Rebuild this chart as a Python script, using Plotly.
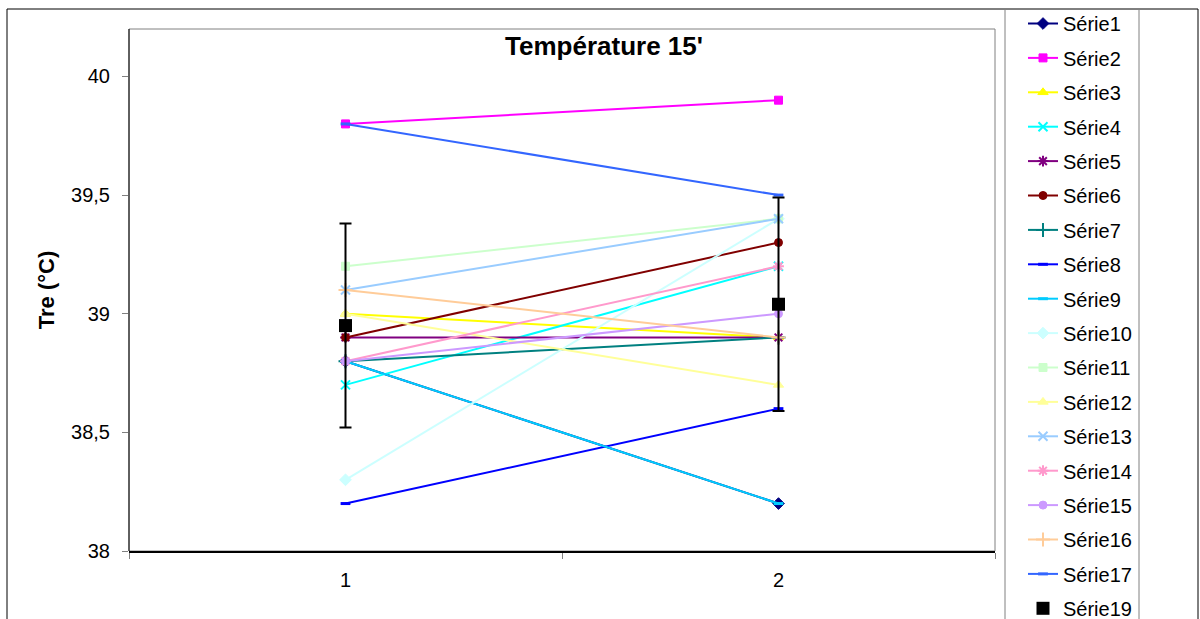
import plotly.graph_objects as go

categories = ["1", "2"]

series_names = ["Série1", "Série2", "Série3", "Série4", "Série5", "Série6", "Série7",
                "Série8", "Série9", "Série10", "Série11", "Série12", "Série13",
                "Série14", "Série15", "Série16", "Série17"]

s1 = [38.8, 38.2]
s2 = [39.8, 39.9]
s3 = [39.0, 38.9]
s4 = [38.7, 39.2]
s5 = [38.9, 38.9]
s6 = [38.9, 39.3]
s7 = [38.8, 38.9]
s8 = [38.2, 38.6]
s9 = [38.8, 38.2]
s10 = [38.3, 39.4]
s11 = [39.2, 39.4]
s12 = [39.0, 38.7]
s13 = [39.1, 39.4]
s14 = [38.8, 39.2]
s15 = [38.8, 39.0]
s16 = [39.1, 38.9]
s17 = [39.8, 39.5]

mean_name = "Série19"
mean_values = [38.95, 39.04]
mean_errors = [0.43, 0.45]

series_values = [s1, s2, s3, s4, s5, s6, s7, s8, s9, s10, s11, s12, s13, s14, s15, s16, s17]

colors = ["#000080", "#FF00FF", "#FFFF00", "#00FFFF", "#800080", "#800000", "#008080",
          "#0000FF", "#00CCFF", "#CCFFFF", "#CCFFCC", "#FFFF99", "#99CCFF",
          "#FF99CC", "#CC99FF", "#FFCC99", "#3366FF"]
symbols = ["diamond", "square", "triangle-up", "x-thin", "asterisk", "circle", "cross-thin",
           "line-ew", "line-ew", "diamond", "square", "triangle-up", "x-thin",
           "asterisk", "circle", "cross-thin", "line-ew"]
sizes = [9, 8, 9, 9, 9, 8, 10, 7, 7, 9, 8, 9, 9, 9, 8, 10, 7]

FONT = "Liberation Sans, Arial, sans-serif"

fig = go.Figure()
for name, vals, col, sym, sz in zip(series_names, series_values, colors, symbols, sizes):
    lw = 2 if sym in ("x-thin", "asterisk", "cross-thin") else (3 if sym == "line-ew" else 1)
    fig.add_trace(go.Scatter(
        x=categories, y=vals, name=name, legendgroup=name,
        mode="lines+markers",
        line=dict(color=col, width=2),
        marker=dict(symbol=sym, size=sz, color=col, line=dict(color=col, width=lw)),
    ))

fig.add_trace(go.Scatter(
    x=categories, y=mean_values, name=mean_name, legendgroup=mean_name,
    mode="markers",
    marker=dict(symbol="square", size=13, color="#000000"),
    error_y=dict(type="data", array=mean_errors, visible=True, color="#000000",
                 thickness=2, width=6),
))

# plot area pixel geometry
L, R, T, B = 129, 995, 29, 551
W, H = 1200, 619
pw, ph = R - L, B - T

def px_x(x):
    return (x - L) / pw

def px_y(y):
    return (B - y) / ph

fig.update_layout(
    width=W, height=H,
    margin=dict(l=L, r=W - R, t=T, b=H - B, autoexpand=False),
    paper_bgcolor="white", plot_bgcolor="white",
    separators=", ",
    font=dict(family=FONT, size=20, color="#000000"),
    title=dict(text="<b>Température 15'</b>", x=604 / W, xanchor="center",
               y=1 - 46 / H, yanchor="middle", yref="container",
               font=dict(family=FONT, size=26, color="#000000")),
    showlegend=True,
    legend=dict(x=px_x(1023), y=px_y(4), xanchor="left", yanchor="top",
                bgcolor="rgba(0,0,0,0)", borderwidth=0,
                font=dict(family=FONT, size=20, color="#000000"),
                tracegroupgap=5.4, maxheight=2000, traceorder="grouped"),
    xaxis=dict(type="category", range=[-0.5, 1.5], tickson="boundaries",
               ticks="outside", ticklen=6, tickcolor="#808080", tickwidth=1,
               showline=True, linecolor="#000000", linewidth=2, showgrid=False,
               zeroline=False, ticklabelstandoff=10,
               tickfont=dict(family=FONT, size=20, color="#000000")),
    yaxis=dict(range=[38, 40.2], tickvals=[38, 38.5, 39, 39.5, 40],
               ticks="outside", ticklen=6, tickcolor="#808080", tickwidth=1,
               showline=False, showgrid=False, zeroline=False,
               ticklabelstandoff=8,
               tickfont=dict(family=FONT, size=20, color="#000000"),
               title=dict(text="<b>Tre (°C)</b>", standoff=10,
                          font=dict(family=FONT, size=22, color="#000000"))),
    shapes=[
        # outer chart frame
        dict(type="rect", xref="paper", yref="paper",
             x0=px_x(7), x1=px_x(1198), y0=px_y(700), y1=px_y(9),
             line=dict(color="#000000", width=1), layer="below"),
        # plot area frame
        dict(type="rect", xref="paper", yref="paper",
             x0=0, x1=1, y0=0, y1=1,
             line=dict(color="#808080", width=1), layer="below"),
        dict(type="line", xref="paper", yref="paper",
             x0=0, x1=0, y0=0, y1=1,
             line=dict(color="#000000", width=1), layer="below"),
        # legend box
        dict(type="rect", xref="paper", yref="paper",
             x0=px_x(1005), x1=px_x(1139), y0=px_y(700), y1=px_y(9),
             line=dict(color="#808080", width=1), layer="below"),
    ],
)

fig.write_html("out.html")
